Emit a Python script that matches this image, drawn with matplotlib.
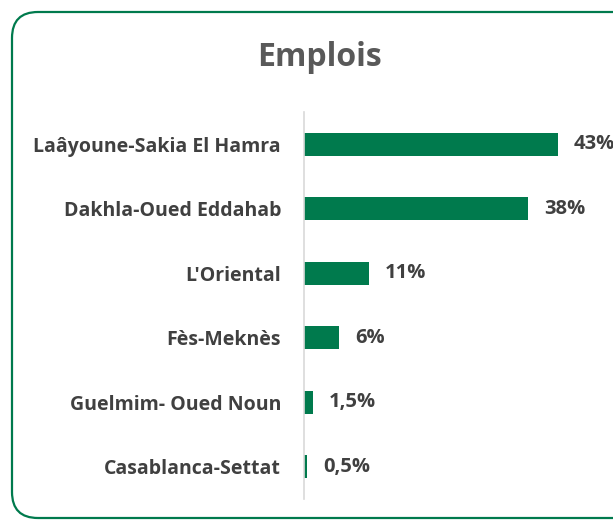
import matplotlib.pyplot as plt
from matplotlib.patches import FancyBboxPatch

regions = [
    "Laâyoune-Sakia El Hamra",
    "Dakhla-Oued Eddahab",
    "L'Oriental",
    "Fès-Meknès",
    "Guelmim- Oued Noun",
    "Casablanca-Settat",
]
shares = [43, 38, 11, 6, 1.5, 0.5]
share_labels = ["43%", "38%", "11%", "6%", "1,5%", "0,5%"]

GREEN = "#007A4D"
TEXT = "#404040"

plt.rcParams["font.family"] = ["Open Sans", "DejaVu Sans"]

fig = plt.figure(figsize=(6.13, 5.21), dpi=100)
W, H = 613, 521

# rounded green frame, drawn in pixel coordinates
frame = FancyBboxPatch((12, 3), 700, 506, boxstyle="round,pad=0,rounding_size=26",
                       transform=None, facecolor="none", edgecolor=GREEN, lw=1.6)
fig.patches.append(frame)

fig.text(320 / W, 1 - 58 / H, "Emplois", ha="center", va="center",
         fontsize=23, fontweight="bold", color="#595959")

ax = fig.add_axes([304 / W, 1 - 499 / H, (W - 304) / W, (499 - 112) / H])
y = list(range(len(regions)))
ax.barh(y, shares, height=0.36, color=GREEN)
ax.set_xlim(0, 52.4)
ax.set_ylim(len(regions) - 0.5, -0.5)

for yi, v, lab in zip(y, shares, share_labels):
    ax.annotate(lab, (v, yi), xytext=(16, 0), textcoords="offset pixels",
                ha="left", va="center", fontsize=14.5, fontweight="bold", color=TEXT)

ax.set_yticks(y)
ax.set_yticklabels(regions, fontsize=14, fontweight="bold", color=TEXT)
ax.tick_params(axis="y", length=0, pad=16.5)
ax.set_xticks([])
for side in ["top", "right", "bottom"]:
    ax.spines[side].set_visible(False)
ax.spines["left"].set_color("#D9D9D9")
ax.spines["left"].set_linewidth(1.2)
ax.patch.set_alpha(0)

fig.savefig("out.png", dpi=100)
